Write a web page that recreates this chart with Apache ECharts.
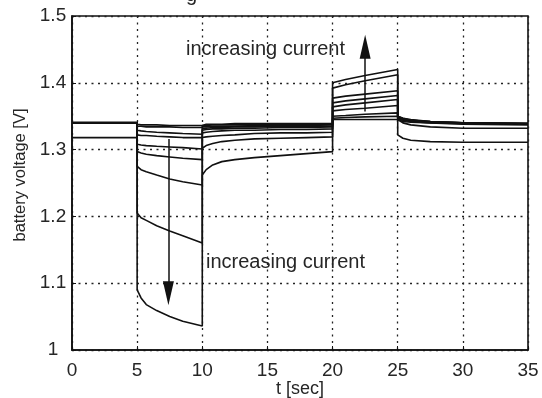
<!DOCTYPE html>
<html>
<head>
<meta charset="utf-8">
<script src="https://cdn.jsdelivr.net/npm/echarts@6/dist/echarts.min.js"></script>
<style>
  html, body { margin: 0; padding: 0; background: #fff; }
  #chart { width: 542px; height: 398px; }
</style>
</head>
<body>
<div id="chart"></div>
<script>
// time samples [sec]; repeated values are the current steps at 5, 10, 20 and 25 s
const times = [0, 5, 5, 5.3, 5.7, 6.5, 7.5, 8.5, 10, 10, 10.3, 10.8, 11.5, 12.5, 14, 16, 18, 20, 20, 21, 22.5, 25, 25, 25.4, 26, 27.5, 30, 35];

// battery voltage [V], one array per current level (largest current first)
const v1 = [1.318, 1.318, 1.090, 1.078, 1.068, 1.059, 1.050, 1.043, 1.036, 1.262, 1.270, 1.277, 1.282, 1.285, 1.288, 1.291, 1.294, 1.297, 1.400, 1.405, 1.411, 1.420, 1.322, 1.317, 1.314, 1.312, 1.311, 1.311];
const v2 = [1.340, 1.340, 1.205, 1.198, 1.194, 1.186, 1.178, 1.171, 1.160, 1.302, 1.306, 1.309, 1.312, 1.314, 1.316, 1.317, 1.318, 1.319, 1.392, 1.397, 1.403, 1.412, 1.345, 1.340, 1.337, 1.334, 1.332, 1.332];
const v3 = [1.340, 1.340, 1.275, 1.270, 1.267, 1.262, 1.256, 1.252, 1.247, 1.318, 1.319, 1.320, 1.321, 1.322, 1.324, 1.325, 1.325, 1.326, 1.377, 1.380, 1.383, 1.388, 1.348, 1.345, 1.342, 1.340, 1.338, 1.337];
const v4 = [1.340, 1.340, 1.297, 1.295, 1.293, 1.291, 1.289, 1.287, 1.285, 1.325, 1.326, 1.327, 1.328, 1.329, 1.329, 1.330, 1.330, 1.331, 1.370, 1.373, 1.376, 1.381, 1.349, 1.346, 1.343, 1.341, 1.339, 1.338];
const v5 = [1.340, 1.340, 1.308, 1.307, 1.306, 1.305, 1.304, 1.303, 1.301, 1.329, 1.330, 1.331, 1.331, 1.332, 1.332, 1.333, 1.333, 1.334, 1.364, 1.367, 1.370, 1.375, 1.350, 1.347, 1.344, 1.342, 1.340, 1.339];
const v6 = [1.340, 1.340, 1.322, 1.321, 1.321, 1.320, 1.319, 1.318, 1.318, 1.331, 1.332, 1.333, 1.333, 1.334, 1.334, 1.335, 1.335, 1.335, 1.358, 1.360, 1.362, 1.366, 1.350, 1.347, 1.345, 1.342, 1.340, 1.339];
const v7 = [1.340, 1.340, 1.329, 1.328, 1.327, 1.326, 1.325, 1.324, 1.323, 1.334, 1.334, 1.335, 1.335, 1.335, 1.336, 1.336, 1.336, 1.337, 1.350, 1.351, 1.353, 1.355, 1.348, 1.346, 1.344, 1.342, 1.340, 1.339];
const v8 = [1.340, 1.340, 1.335, 1.335, 1.334, 1.334, 1.334, 1.333, 1.333, 1.336, 1.336, 1.337, 1.337, 1.337, 1.337, 1.338, 1.338, 1.338, 1.347, 1.348, 1.349, 1.350, 1.346, 1.344, 1.342, 1.341, 1.340, 1.339];
const v9 = [1.341, 1.341, 1.338, 1.337, 1.337, 1.337, 1.336, 1.336, 1.336, 1.338, 1.338, 1.338, 1.338, 1.339, 1.339, 1.339, 1.339, 1.339, 1.345, 1.345, 1.345, 1.345, 1.343, 1.342, 1.341, 1.340, 1.339, 1.339];

const voltages = [v1, v2, v3, v4, v5, v6, v7, v8, v9];

// "increasing current" arrows: [t, from V, to V]
const arrowDown = [7.4, 1.316, 1.085];
const arrowUp = [22.5, 1.357, 1.454];

const FONT = 'Liberation Sans, Arial, sans-serif';
const INK = '#111';
const TEXT = '#262626';

const chart = echarts.init(document.getElementById('chart'), null, { renderer: 'canvas' });

const gridLine = { show: true, lineStyle: { color: '#222', type: [2, 4.5], width: 1.3 } };

const series = voltages.map((v) => ({
  type: 'line',
  data: times.map((t, i) => [t, v[i]]),
  showSymbol: false,
  symbol: 'none',
  lineStyle: { color: INK, width: 1.6 },
  silent: true,
  z: 3,
}));

// arrows ride on the first series
series[0].markLine = {
  silent: true,
  symbol: ['none', 'triangle'],
  symbolSize: [11, 24],
  label: { show: false },
  lineStyle: { color: INK, width: 1.5, type: 'solid' },
  itemStyle: { color: INK },
  data: [
    [{ coord: [arrowDown[0], arrowDown[1]] }, { coord: [arrowDown[0], arrowDown[2]] }],
    [{ coord: [arrowUp[0], arrowUp[1]] }, { coord: [arrowUp[0], arrowUp[2]] }],
  ],
};

chart.setOption({
  animation: false,
  backgroundColor: '#fff',
  grid: {
    left: 72, right: 14, top: 16, bottom: 48,
    outerBoundsMode: 'none',
    show: true, borderColor: INK, borderWidth: 1.6,
  },
  xAxis: {
    type: 'value',
    min: 0, max: 35, interval: 5,
    name: 't [sec]',
    nameLocation: 'middle',
    nameGap: 30,
    nameMoveOverlap: false,
    nameTextStyle: { fontFamily: FONT, fontSize: 18, color: TEXT },
    axisLine: { show: true, onZero: false, lineStyle: { color: INK, width: 1.6 } },
    axisTick: { show: true, inside: true, length: 4, lineStyle: { color: INK } },
    axisLabel: { fontFamily: FONT, fontSize: 19, color: TEXT, margin: 11 },
    splitLine: gridLine,
  },
  yAxis: {
    type: 'value',
    min: 1, max: 1.5, interval: 0.1,
    axisLine: { show: true, onZero: false, lineStyle: { color: INK, width: 1.6 } },
    axisTick: { show: true, inside: true, length: 4, lineStyle: { color: INK } },
    axisLabel: { fontFamily: FONT, fontSize: 19, color: TEXT, margin: 19, align: 'center' },
    splitLine: gridLine,
  },
  graphic: [
    { type: 'text', left: 186, top: -15, style: { text: 'g', font: '20px ' + FONT, fill: TEXT } },
    { type: 'text', left: 186, top: 39, style: { text: 'increasing current', font: '20px ' + FONT, fill: TEXT } },
    { type: 'text', left: 206, top: 252, style: { text: 'increasing current', font: '20px ' + FONT, fill: TEXT } },
    {
      type: 'text', x: 20, y: 175, rotation: Math.PI / 2,
      style: { text: 'battery voltage [V]', font: '16.5px ' + FONT, fill: TEXT, align: 'center', verticalAlign: 'middle' },
    },
  ],
  series: series,
});
</script>
</body>
</html>
